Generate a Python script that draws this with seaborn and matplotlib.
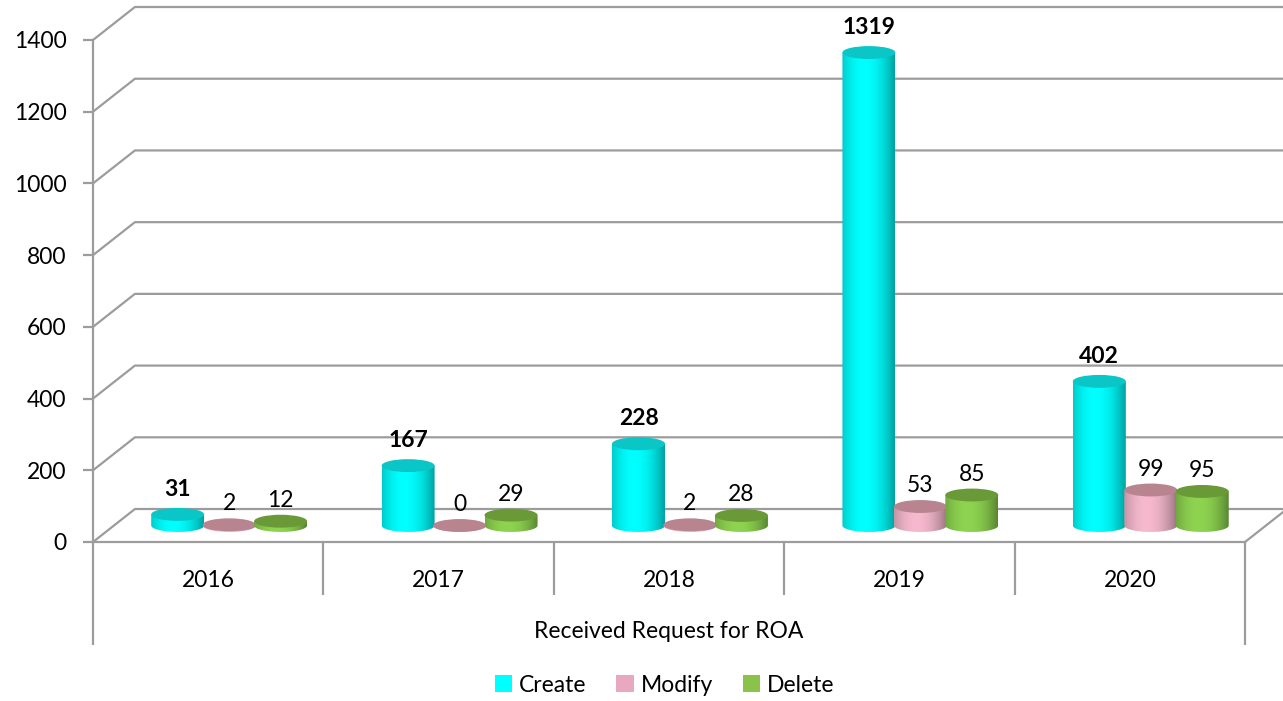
import numpy as np
import pandas as pd
import seaborn as sns
import matplotlib.pyplot as plt
import matplotlib.colors as mcolors
from matplotlib.path import Path
from matplotlib.patches import PathPatch, Ellipse, Patch

years = ['2016', '2017', '2018', '2019', '2020']
kinds = ['Create', 'Modify', 'Delete']
create = [31, 167, 228, 1319, 402]
modify = [2, 0, 2, 53, 99]
delete = [12, 29, 28, 85, 95]

legend_colors = {'Create': '#00FFFF', 'Modify': '#E8A8C0', 'Delete': '#8BC34A'}
body_colors = {'Create': '#00FFFF', 'Modify': '#F6B9CE', 'Delete': '#8ED450'}
cap_colors = {'Create': '#0BC6C6', 'Modify': '#B8848F', 'Delete': '#6A9A38'}

GRID = '#9C9C9C'
FS = 16.5
DX, DY = 0.182, 92          # depth of the fake 3D box (category units, value units)
RY = 18                     # half height of the cylinder ellipses (value units)

df = pd.DataFrame({
    'year': years * 3,
    'kind': ['Create'] * 5 + ['Modify'] * 5 + ['Delete'] * 5,
    'value': create + modify + delete,
})

sns.set_style('white')
plt.rcParams['font.family'] = ['Lato', 'DejaVu Sans']
plt.rcParams['text.color'] = 'black'
plt.rcParams['axes.labelcolor'] = 'black'
plt.rcParams['xtick.color'] = 'black'
plt.rcParams['ytick.color'] = 'black'

fig = plt.figure(figsize=(12.83, 7.01), dpi=100)
ax = fig.add_axes([93 / 1283, 159 / 701, 1152 / 1283, 502 / 701])

sns.barplot(data=df, x='year', y='value', hue='kind', hue_order=kinds,
            palette=body_colors, width=0.67, saturation=1, legend=False, ax=ax)


def gradient(color, n=80):
    rgb = np.array(mcolors.to_rgb(color))
    t = np.linspace(-1, 1, n)
    k = 1.0 - 0.28 * (t + 0.15) ** 2
    return np.clip(rgb[None, :] * k[:, None], 0, 1)[None, :, :]


# turn each seaborn bar into a shaded cylinder standing half way into the box
for i, (cont, kind) in enumerate(zip(ax.containers, kinds)):
    for bar in cont:
        bar.set_visible(False)
        h = bar.get_height()
        w = bar.get_width() * 1.03
        cx = bar.get_x() + bar.get_width() / 2 + DX / 2
        base = DY / 2
        x0, x1 = cx - w / 2, cx + w / 2
        z = 3 + i
        th = np.linspace(np.pi, 2 * np.pi, 40)
        verts = [(x0, base + h)] + [(cx + w / 2 * np.cos(a), base + RY * np.sin(a)) for a in th] + [(x1, base + h), (x0, base + h)]
        body = PathPatch(Path(verts), transform=ax.transData, facecolor='none', edgecolor='none')
        ax.add_patch(body)
        im = ax.imshow(gradient(body_colors[kind]), extent=[x0, x1, base - RY, base + h],
                       aspect='auto', interpolation='bilinear', zorder=z)
        im.set_clip_path(body)
        ax.add_patch(Ellipse((cx, base + h), w, 2 * RY, facecolor=cap_colors[kind],
                             edgecolor='none', zorder=z + 0.1))
        bold = kind == 'Create'
        ax.text(cx, base + h + (70 if bold else 58), f'{int(h)}', ha='center', va='center',
                fontsize=FS, fontweight='bold' if bold else 'normal', zorder=10)

# back wall / floor of the 3D box
for v in range(0, 1401, 200):
    ax.plot([-0.5, -0.5 + DX, 5.3], [v, v + DY, v + DY], color=GRID, lw=1.6,
            clip_on=False, zorder=1, solid_capstyle='butt')
ax.plot([4.5, 4.5 + DX], [0, DY], color=GRID, lw=1.6, clip_on=False, zorder=1)
ax.vlines([0.5, 1.5, 2.5, 3.5], -148, 0, color=GRID, lw=1.6, clip_on=False)
ax.vlines([-0.5, 4.5], -287, 0, color=GRID, lw=1.6, clip_on=False)

ax.set_xlim(-0.5, 4.5)
ax.set_ylim(0, 1400)
ax.set_yticks(range(0, 1401, 200))
sns.despine(ax=ax, top=True, right=True)
for s in ['left', 'bottom']:
    ax.spines[s].set_color(GRID)
    ax.spines[s].set_linewidth(1.6)
ax.tick_params(axis='y', length=7, width=1.6, color=GRID, pad=12, labelsize=FS, left=True)
ax.tick_params(axis='x', length=0, pad=20, labelsize=FS)
ax.set_xlabel('Received Request for ROA', fontsize=FS, labelpad=22)
ax.set_ylabel('')

handles = [Patch(facecolor=legend_colors[k], edgecolor='none', label=k) for k in kinds]
fig.legend(handles=handles, loc='lower center', bbox_to_anchor=(0.518, -0.022), ncol=3,
           frameon=False, fontsize=FS, handlelength=0.75, handleheight=0.75,
           handletextpad=0.3, columnspacing=1.3)

fig.savefig('out.png', dpi=100)
